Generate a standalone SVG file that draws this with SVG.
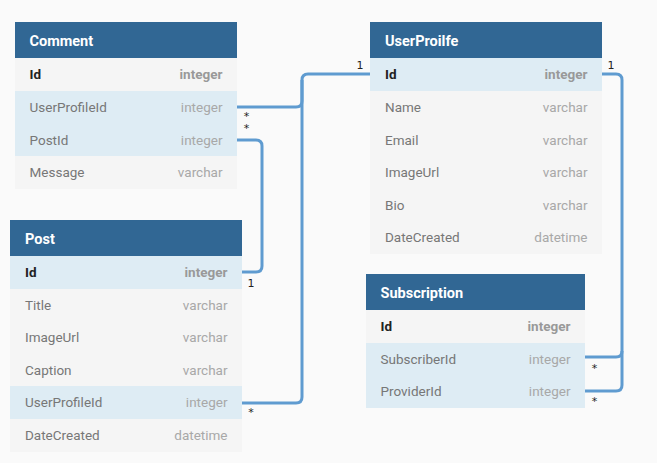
<svg xmlns="http://www.w3.org/2000/svg" width="657" height="463" viewBox="0 0 657 463">
<style>
.bg{fill:#fafafa}
.hd{fill:#316794}
.row{fill:#f5f5f5}
.hl{fill:#deecf4}
.ht{font-family:Roboto,"Liberation Sans",sans-serif;font-size:14.5px;font-weight:bold;fill:#ffffff}
.pk{font-family:Roboto,"Liberation Sans",sans-serif;font-size:13.5px;font-weight:bold;fill:#222222}
.pt{font-family:Roboto,"Liberation Sans",sans-serif;font-size:13.5px;font-weight:bold;fill:#999999;text-anchor:end}
.fn{font-family:Roboto,"Liberation Sans",sans-serif;font-size:13.5px;fill:#777777}
.ft{font-family:Roboto,"Liberation Sans",sans-serif;font-size:13.5px;fill:#a8a8a8;text-anchor:end}
.cn{fill:none;stroke:#5f9bd0;stroke-width:3}
.lb{font-family:"DejaVu Sans",sans-serif;font-size:11px;fill:#222222;text-anchor:middle}
</style>
<rect class="bg" x="0" y="0" width="657" height="463"/>

<g id="connectors">
<path class="cn" d="M237,107 H296 Q302,107 302,101 V80 Q302,74 308,74 H370"/>
<path class="cn" d="M242,403 H296 Q302,403 302,397 V80"/>
<path class="cn" d="M237,140 H256 Q262,140 262,146 V266 Q262,272 256,272 H242"/>
<path class="cn" d="M602,74 H616 Q622,74 622,80 V351 Q622,357 616,357 H585"/>
<path class="cn" d="M622,351 V385 Q622,391 616,391 H585"/>
<text class="lb" x="246.5" y="120">*</text>
<text class="lb" x="246.5" y="132">*</text>
<text class="lb" x="360" y="69">1</text>
<text class="lb" x="611" y="69">1</text>
<text class="lb" x="251" y="287">1</text>
<text class="lb" x="251" y="416">*</text>
<text class="lb" x="594.5" y="372">*</text>
<text class="lb" x="594.5" y="405">*</text>
</g>

<g id="comment">
<rect class="hd" x="15" y="22" width="222" height="36"/>
<text class="ht" x="29.5" y="45.5">Comment</text>
<rect class="row" x="15" y="58" width="222" height="33"/>
<rect class="hl" x="15" y="91" width="222" height="65"/>
<rect class="row" x="15" y="156" width="222" height="33"/>
<text class="pk" x="29.5" y="79">Id</text><text class="pt" x="222.5" y="79">integer</text>
<text class="fn" x="29.5" y="112">UserProfileId</text><text class="ft" x="222.5" y="112">integer</text>
<text class="fn" x="29.5" y="144.5">PostId</text><text class="ft" x="222.5" y="144.5">integer</text>
<text class="fn" x="29.5" y="177">Message</text><text class="ft" x="222.5" y="177">varchar</text>
</g>

<g id="userprofile">
<rect class="hd" x="370" y="22" width="232" height="36"/>
<text class="ht" x="385" y="45.5">UserProilfe</text>
<rect class="hl" x="370" y="58" width="232" height="33"/>
<rect class="row" x="370" y="91" width="232" height="163"/>
<text class="pk" x="385" y="79">Id</text><text class="pt" x="587.5" y="79">integer</text>
<text class="fn" x="385" y="112">Name</text><text class="ft" x="587.5" y="112">varchar</text>
<text class="fn" x="385" y="144.5">Email</text><text class="ft" x="587.5" y="144.5">varchar</text>
<text class="fn" x="385" y="177">ImageUrl</text><text class="ft" x="587.5" y="177">varchar</text>
<text class="fn" x="385" y="209.5">Bio</text><text class="ft" x="587.5" y="209.5">varchar</text>
<text class="fn" x="385" y="242">DateCreated</text><text class="ft" x="587.5" y="242">datetime</text>
</g>

<g id="post">
<rect class="hd" x="10" y="220" width="232" height="36"/>
<text class="ht" x="25" y="243.5">Post</text>
<rect class="hl" x="10" y="256" width="232" height="33"/>
<rect class="row" x="10" y="289" width="232" height="97"/>
<rect class="hl" x="10" y="386" width="232" height="33"/>
<rect class="row" x="10" y="419" width="232" height="33"/>
<text class="pk" x="25" y="277">Id</text><text class="pt" x="227.5" y="277">integer</text>
<text class="fn" x="25" y="309.5">Title</text><text class="ft" x="227.5" y="309.5">varchar</text>
<text class="fn" x="25" y="342">ImageUrl</text><text class="ft" x="227.5" y="342">varchar</text>
<text class="fn" x="25" y="374.5">Caption</text><text class="ft" x="227.5" y="374.5">varchar</text>
<text class="fn" x="25" y="407">UserProfileId</text><text class="ft" x="227.5" y="407">integer</text>
<text class="fn" x="25" y="440">DateCreated</text><text class="ft" x="227.5" y="440">datetime</text>
</g>

<g id="subscription">
<rect class="hd" x="366" y="274" width="219" height="36"/>
<text class="ht" x="380.5" y="297.5">Subscription</text>
<rect class="row" x="366" y="310" width="219" height="33"/>
<rect class="hl" x="366" y="343" width="219" height="65"/>
<text class="pk" x="380.5" y="331">Id</text><text class="pt" x="570.5" y="331">integer</text>
<text class="fn" x="380.5" y="363.5">SubscriberId</text><text class="ft" x="570.5" y="363.5">integer</text>
<text class="fn" x="380.5" y="396">ProviderId</text><text class="ft" x="570.5" y="396">integer</text>
</g>
</svg>
